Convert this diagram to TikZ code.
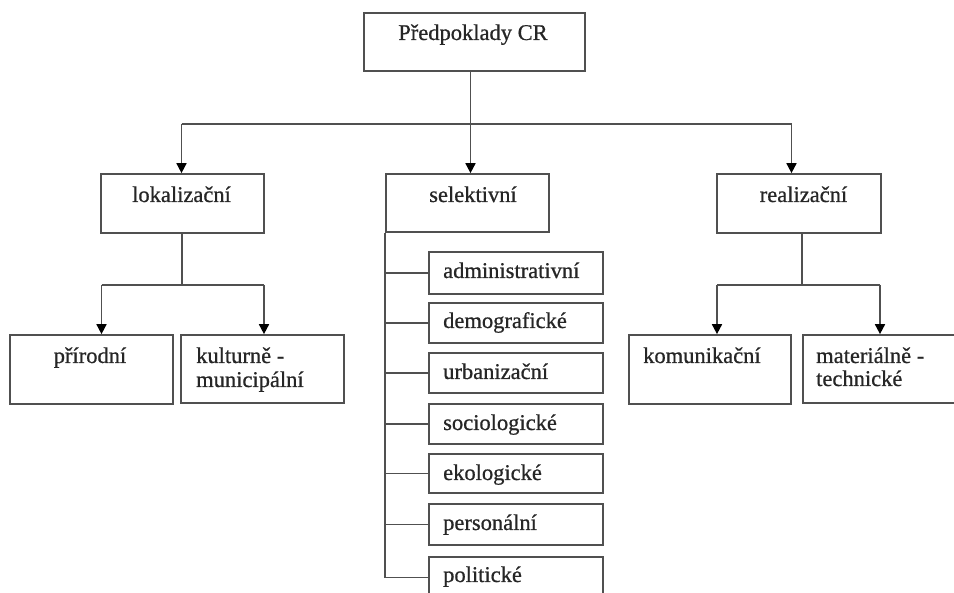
\documentclass[tikz,border=0pt]{standalone}
\usepackage{fontspec}
\setmainfont{Liberation Serif}
\newfontfamily\diagfont{Liberation Serif}[FakeBold=0.7]
\usetikzlibrary{arrows.meta}
\definecolor{linegray}{RGB}{80,80,80}
\begin{document}
\begin{tikzpicture}[x=1pt,y=-1pt,
  box/.style={draw=linegray, line width=1.7pt, rectangle, inner sep=0pt, fill=white},
  txt/.style={anchor=base, inner sep=0pt, font=\diagfont\fontsize{22.5}{27}\selectfont, text=black!85},
  txtl/.style={txt, anchor=base west},
  conn/.style={draw=linegray, line width=1.7pt},
  arr/.style={conn, -{Triangle[width=10pt,length=10pt,color=black]}}]
\useasboundingbox (0,0) rectangle (954,593);
\begin{scope}
\clip (0,0) rectangle (954,593);
\fill[white] (0,0) rectangle (954,593);
% boxes
\node[box, minimum width=221pt, minimum height=58pt] (top) at (474.5,42) {};
\node[box, minimum width=163pt, minimum height=59pt] (lok) at (182.5,203.5) {};
\node[box, minimum width=163pt, minimum height=58pt] (sel) at (467.5,203) {};
\node[box, minimum width=164pt, minimum height=59pt] (real) at (799,203.5) {};
\node[box, minimum width=163pt, minimum height=69pt] (prir) at (91.5,369.5) {};
\node[box, minimum width=163pt, minimum height=68pt] (kult) at (262.5,369) {};
\node[box, minimum width=162pt, minimum height=69pt] (kom) at (710,369.5) {};
\node[box, minimum width=163pt, minimum height=68pt] (mat) at (884.5,369) {};
\node[box, minimum width=174pt, minimum height=42pt] (s1) at (516,273) {};
\node[box, minimum width=174pt, minimum height=40pt] (s2) at (516,323) {};
\node[box, minimum width=174pt, minimum height=40pt] (s3) at (516,373) {};
\node[box, minimum width=174pt, minimum height=40pt] (s4) at (516,424) {};
\node[box, minimum width=174pt, minimum height=39pt] (s5) at (516,473.5) {};
\node[box, minimum width=174pt, minimum height=41pt] (s6) at (516,524.5) {};
\node[box, minimum width=174pt, minimum height=41pt] (s7) at (516,577.5) {};
% texts
\node[txt] (ttop) at (473,40) {Předpoklady CR};
\node[txt] (tlok) at (181.5,202) {lokalizační};
\node[txt] (tsel) at (473,202) {selektivní};
\node[txt] (treal) at (803.5,202) {realizační};
\node[txt] (tprir) at (90,363) {přírodní};
\node[txtl] (tkult1) at (196,363) {kulturně -};
\node[txtl] (tkult2) at (196,387) {municipální};
\node[txtl] (tkom) at (643,363) {komunikační};
\node[txtl] (tmat1) at (816,363) {materiálně -};
\node[txtl] (tmat2) at (816,386) {technické};
\node[txtl] (ts1) at (443,278) {administrativní};
\node[txtl] (ts2) at (443,328) {demografické};
\node[txtl] (ts3) at (443,379) {urbanizační};
\node[txtl] (ts4) at (443,430) {sociologické};
\node[txtl] (ts5) at (443,480) {ekologické};
\node[txtl] (ts6) at (443,530) {personální};
\node[txtl] (ts7) at (443,582) {politické};
% bus coordinates
\coordinate (jtop) at (470.5,124);
\coordinate (jlokL) at (181.5,124);
\coordinate (jrealR) at (791.5,124);
\coordinate (jlok) at (182,285);
\coordinate (jprir) at (101.5,285);
\coordinate (jkult) at (264,285);
\coordinate (jreal) at (802,285);
\coordinate (jkom) at (717,285);
\coordinate (jmat) at (880,285);
% connectors
\draw[conn] (top.south -| jtop) -- (jtop);
\draw[conn] (jlokL) -- (jrealR);
\draw[arr] (jlokL) -- (jlokL |- lok.north);
\draw[arr] (jtop) -- (jtop |- sel.north);
\draw[arr] (jrealR) -- (jrealR |- real.north);
\draw[conn] (lok.south -| jlok) -- (jlok);
\draw[conn] (jprir) -- (jkult);
\draw[arr] (jprir) -- (jprir |- prir.north);
\draw[arr] (jkult) -- (jkult |- kult.north);
\draw[conn] (real.south -| jreal) -- (jreal);
\draw[conn] (jkom) -- (jmat);
\draw[arr] (jkom) -- (jkom |- kom.north);
\draw[arr] (jmat) -- (jmat |- mat.north);
\draw[conn] (sel.south west) -- (sel.south west |- s7.west) -- (s7.west);
\foreach \s in {s1,s2,s3,s4,s5,s6}
  \draw[conn] (\s.west -| sel.south west) -- (\s.west);
\end{scope}
\end{tikzpicture}
\end{document}
